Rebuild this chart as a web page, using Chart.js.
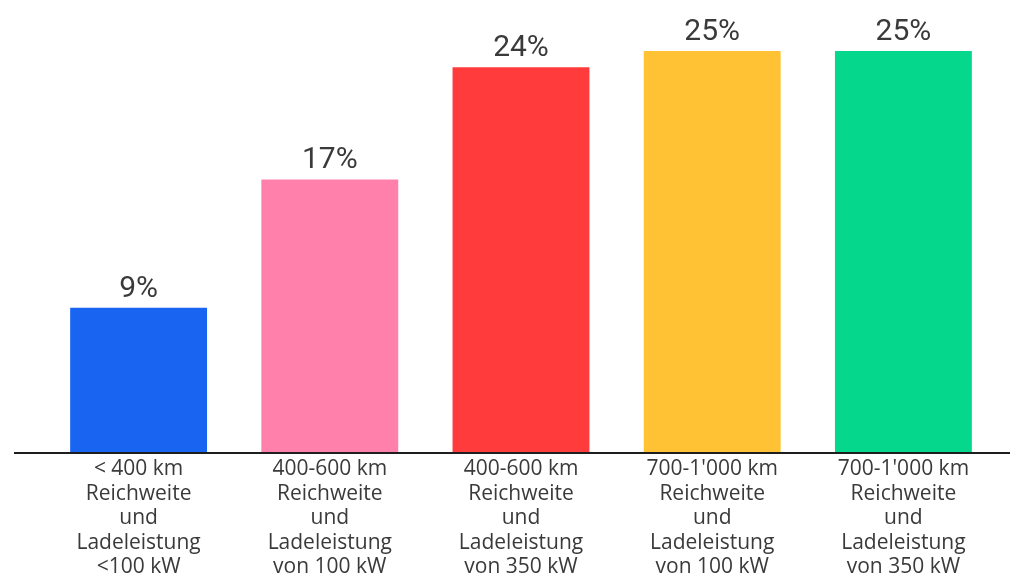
<!DOCTYPE html>
<html>
<head>
<meta charset="utf-8">
<script src="https://cdn.jsdelivr.net/npm/chart.js@4.4.1/dist/chart.umd.min.js"></script>
<style>
html,body{margin:0;padding:0;background:#fff;}
#wrap{width:1010px;height:576px;position:relative;}
</style>
</head>
<body>
<div id="wrap"><canvas id="c" width="1010" height="576"></canvas></div>
<script>
const categories = [
  ["< 400 km", "Reichweite", "und", "Ladeleistung", "<100 kW"],
  ["400-600 km", "Reichweite", "und", "Ladeleistung", "von 100 kW"],
  ["400-600 km", "Reichweite", "und", "Ladeleistung", "von 350 kW"],
  ["700-1'000 km", "Reichweite", "und", "Ladeleistung", "von 100 kW"],
  ["700-1'000 km", "Reichweite", "und", "Ladeleistung", "von 350 kW"]
];
const values = [9, 17, 24, 25, 25];
const barColors = ["#1a64f2", "#ff80ab", "#ff3b3b", "#ffc235", "#05d88c"];

const FONT = "Roboto, 'Noto Sans', sans-serif";
const TICK_FONT = "'Open Sans', 'Noto Sans', sans-serif";
const TEXT = "#3a3a3a";

const valueLabels = {
  id: 'valueLabels',
  afterDatasetsDraw(chart) {
    const ctx = chart.ctx;
    const meta = chart.getDatasetMeta(0);
    ctx.save();
    ctx.font = "30px " + FONT;
    ctx.fillStyle = TEXT;
    ctx.textAlign = 'center';
    ctx.textBaseline = 'alphabetic';
    meta.data.forEach((bar, i) => {
      ctx.fillText(values[i] + '%', bar.x, bar.y - 11);
    });
    ctx.restore();
  }
};

const baseline = {
  id: 'baseline',
  afterDatasetsDraw(chart) {
    const ctx = chart.ctx;
    const y = chart.scales.y.getPixelForValue(0);
    ctx.save();
    ctx.strokeStyle = '#1e1e1e';
    ctx.lineWidth = 2;
    ctx.beginPath();
    ctx.moveTo(14, y + 1);
    ctx.lineTo(chart.width, y + 1);
    ctx.stroke();
    ctx.restore();
  }
};

new Chart(document.getElementById('c'), {
  type: 'bar',
  data: {
    labels: categories,
    datasets: [{
      data: values,
      backgroundColor: barColors,
      borderWidth: 0,
      categoryPercentage: 1,
      barPercentage: 0.716
    }]
  },
  options: {
    responsive: false,
    animation: false,
    devicePixelRatio: 1,
    layout: { padding: { left: 43, right: 11, top: 3, bottom: 0 } },
    plugins: { legend: { display: false }, tooltip: { enabled: false } },
    scales: {
      x: {
        grid: { display: false, drawTicks: false },
        border: { display: false },
        ticks: {
          color: TEXT,
          font: { family: TICK_FONT, size: 21, lineHeight: 1.167 },
          padding: 5,
          maxRotation: 0,
          autoSkip: false
        },
        afterFit(scale) { scale.height = 124; }
      },
      y: {
        display: false,
        min: 0,
        max: 28
      }
    }
  },
  plugins: [valueLabels, baseline]
});
</script>
</body>
</html>
